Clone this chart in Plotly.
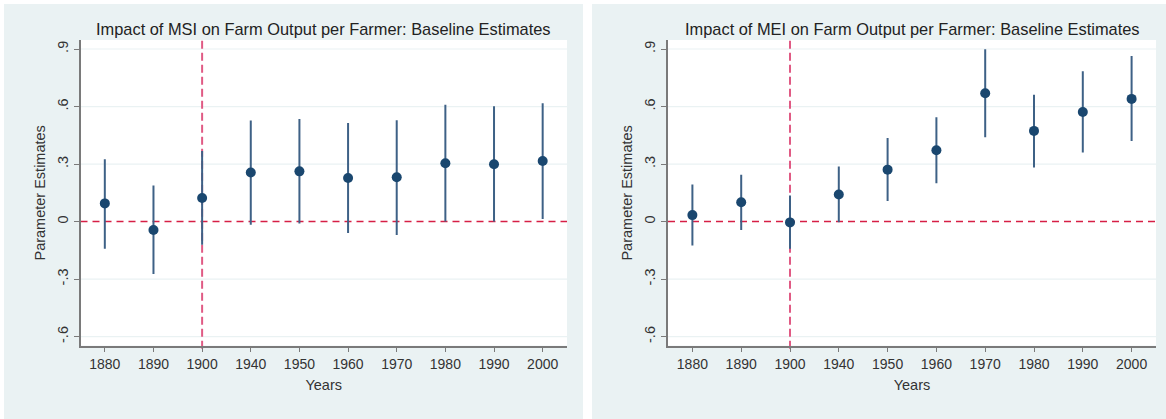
import plotly.graph_objects as go

years = ["1880", "1890", "1900", "1940", "1950", "1960", "1970", "1980", "1990", "2000"]
policy_year = "1900"

msi_est = [0.095, -0.044, 0.123, 0.256, 0.262, 0.227, 0.231, 0.304, 0.299, 0.316]
msi_hi = [0.325, 0.188, 0.368, 0.527, 0.535, 0.514, 0.528, 0.610, 0.601, 0.617]
msi_lo = [-0.141, -0.273, -0.120, -0.016, -0.010, -0.059, -0.070, 0.001, 0.001, 0.014]

mei_est = [0.034, 0.101, -0.004, 0.141, 0.271, 0.372, 0.669, 0.473, 0.572, 0.640]
mei_hi = [0.193, 0.245, 0.136, 0.288, 0.436, 0.544, 0.899, 0.662, 0.784, 0.863]
mei_lo = [-0.124, -0.044, -0.141, -0.003, 0.107, 0.200, 0.440, 0.282, 0.361, 0.420]

titles = ["Impact of MSI on Farm Output per Farmer: Baseline Estimates",
          "Impact of MEI on Farm Output per Farmer: Baseline Estimates"]
ytick_vals = [-0.6, -0.3, 0, 0.3, 0.6, 0.9]
ytick_text = ["-.6", "-.3", "0", ".3", ".6", ".9"]

W, H = 1166, 419
NAVY = "#1A476F"
BAR = "#3E6186"
BG = "#EAF2F3"
AX = "#7A7A7A"
FONT = "Liberation Sans, Arial, sans-serif"

fig = go.Figure()

panels = [
    dict(x0=4, x1=583, px0=80.5, px1=567, est=msi_est, hi=msi_hi, lo=msi_lo),
    dict(x0=592, x1=1166, px0=668, px1=1156, est=mei_est, hi=mei_hi, lo=mei_lo),
]
py0, py1 = 40, 345.7

shapes = [
    dict(type="rect", xref="paper", yref="paper", x0=0, x1=1, y0=1 - 4 / H, y1=1,
         fillcolor="white", line=dict(width=0), layer="below"),
    dict(type="rect", xref="paper", yref="paper", x0=0, x1=4 / W, y0=0, y1=1,
         fillcolor="white", line=dict(width=0), layer="below"),
    dict(type="rect", xref="paper", yref="paper", x0=583 / W, x1=592 / W, y0=0, y1=1,
         fillcolor="white", line=dict(width=0), layer="below"),
]
annotations = []
for i, p in enumerate(panels):
    xa = "x" if i == 0 else "x2"
    ya = "y" if i == 0 else "y2"
    for j, yr in enumerate(years):
        fig.add_trace(go.Scatter(x=[yr, yr], y=[p["lo"][j], p["hi"][j]], mode="lines",
                                 line=dict(color=BAR, width=2), xaxis=xa, yaxis=ya,
                                 showlegend=False, hoverinfo="skip"))
    fig.add_trace(go.Scatter(x=years, y=p["est"], mode="markers",
                             marker=dict(color=NAVY, size=10), xaxis=xa, yaxis=ya,
                             showlegend=False))
    xd = "x domain" if i == 0 else "x2 domain"
    yd = "y domain" if i == 0 else "y2 domain"
    for v in ytick_vals:
        if v == 0:
            continue
        shapes.append(dict(type="line", xref=xd, yref=ya, x0=0, x1=1, y0=v, y1=v,
                           line=dict(color=BG, width=1.2), layer="below"))
    shapes.append(dict(type="line", xref=xd, yref=ya, x0=0, x1=1, y0=0, y1=0,
                       line=dict(color="#D61F45", width=1.5, dash="7px,5px"), layer="below"))
    k = years.index(policy_year)
    shapes.append(dict(type="line", xref=xa, yref=yd, x0=k, x1=k, y0=-0.01, y1=1,
                       line=dict(color="#E05A84", width=2, dash="8px,4px"), layer="below"))
    annotations.append(dict(text=titles[i], xref="paper", yref="paper",
                            x=(p["px0"] + p["px1"]) / 2 / W, y=1 - 29 / H,
                            xanchor="center", yanchor="middle", showarrow=False,
                            font=dict(family=FONT, size=16.4, color="#222222")))

axis_common = dict(showline=True, linecolor=AX, linewidth=1.5, ticks="outside",
                   ticklen=5, tickcolor=AX, tickwidth=1.2,
                   tickfont=dict(family=FONT, size=14, color="#333333"),
                   zeroline=False, showgrid=False)

layout = dict(
    width=W, height=H, margin=dict(l=0, r=0, t=0, b=0),
    paper_bgcolor=BG, plot_bgcolor="white",
    shapes=shapes, annotations=annotations, showlegend=False,
)
for i, p in enumerate(panels):
    xk = "xaxis" if i == 0 else "xaxis2"
    yk = "yaxis" if i == 0 else "yaxis2"
    layout[xk] = dict(axis_common, type="category", categoryorder="array", categoryarray=years,
                      range=[-0.5, 9.5], domain=[p["px0"] / W, p["px1"] / W],
                      anchor="y" if i == 0 else "y2",
                      title=dict(text="Years", font=dict(family=FONT, size=14.5, color="#333333"),
                                 standoff=9))
    layout[yk] = dict(axis_common, range=[-0.647, 0.947], domain=[1 - py1 / H, 1 - py0 / H],
                      tickvals=ytick_vals, ticktext=ytick_text, tickangle=-90,
                      tickfont=dict(family=FONT, size=14.5, color="#333333"),
                      anchor="x" if i == 0 else "x2",
                      title=dict(text="Parameter Estimates",
                                 font=dict(family=FONT, size=14.5, color="#333333"), standoff=6))

fig.update_layout(**layout)
fig.write_html("out.html", config={"displayModeBar": False},
               post_script="document.body.style.margin='0';document.body.style.overflow='hidden';")
